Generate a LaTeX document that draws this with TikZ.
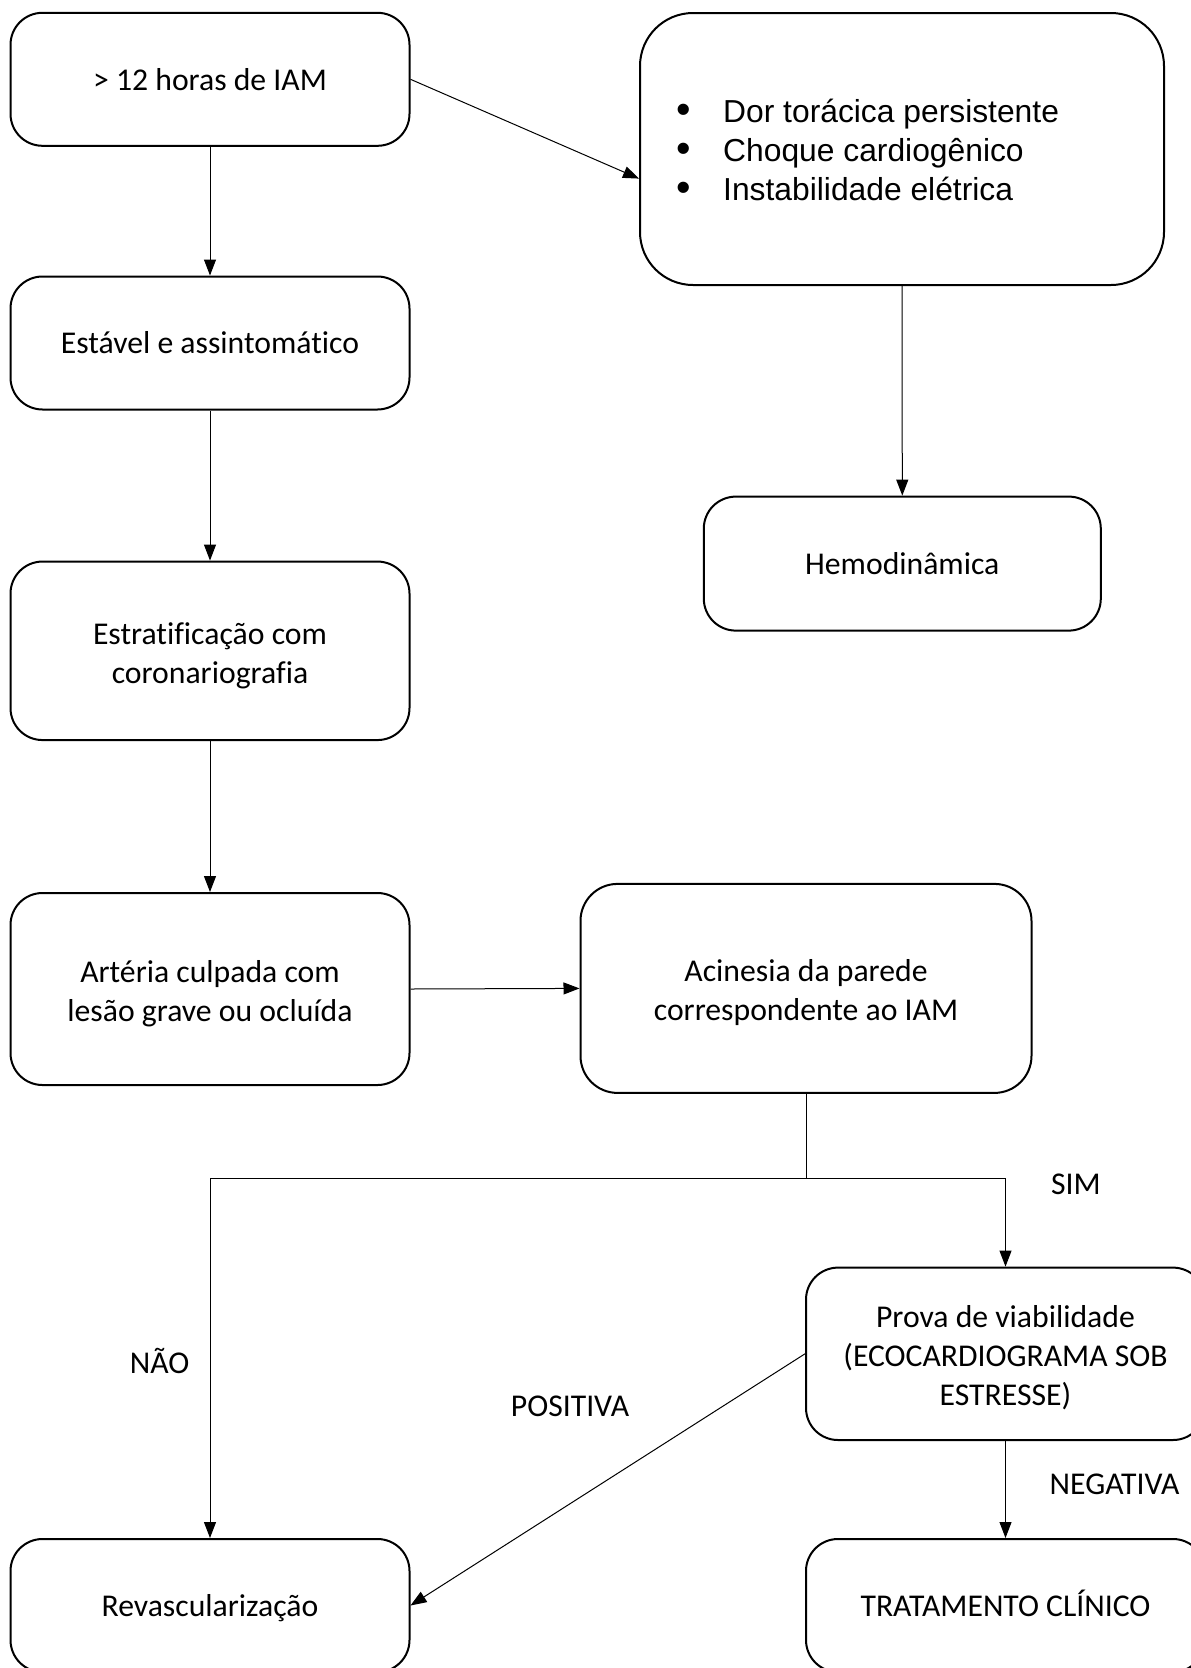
\documentclass[tikz,border=0pt]{standalone}
\usepackage{fontspec}
\usepackage{graphicx}
\setmainfont[Ligatures=NoCommon]{Carlito}
\newfontfamily\arialf{Liberation Sans}
\usetikzlibrary{arrows.meta}
\newcommand\wst{\rule[-8.5pt]{0pt}{38.7pt}}
\newcommand\wsm{\rule[-6.5pt]{0pt}{38.7pt}}
\newcommand\bul{\makebox[47pt][l]{\raisebox{-1pt}{\scalebox{1.3}{\textbullet}}}}
\begin{document}
\begin{tikzpicture}[x=1pt,y=-1pt,
  box/.style={draw, line width=2pt, rounded corners=32pt, minimum width=399pt,
    minimum height=133pt, align=center, inner sep=0pt,
    font=\fontsize{31.7}{38.8}\selectfont},
  conn/.style={line width=1pt, -{Triangle[length=16pt,width=12pt]}},
  lbl/.style={font=\fontsize{31.7}{38.8}\selectfont, inner sep=0pt}]
\clip (0,0) rectangle (1191,1668);
\fill[white] (0,0) rectangle (1191,1668);

\node[box] (b1) at (210,79.3) {\wst> 12 horas de IAM};
\node[box, minimum width=524pt, minimum height=272pt, rounded corners=53pt] (b2) at (902,149) {};
\node[anchor=west, align=left, inner sep=0pt,
  font=\arialf\fontsize{31.8}{39}\selectfont] (b2t) at (676,150)
  {\bul Dor torácica persistente\\
   \bul Choque cardiogênico\\
   \bul Instabilidade elétrica};
\node[box] (b3) at (210,343) {\wst Estável e assintomático};
\node[box, minimum width=397pt, minimum height=134pt] (b4) at (902.3,563.6) {\wst Hemodinâmica};
\node[box, minimum height=178.5pt] (b5) at (210,650.8) {\wsm Estratificação com\\\wsm coronariografia};
\node[box, minimum height=192pt] (b6) at (210,989) {\wsm Artéria culpada com\\\wsm lesão grave ou ocluída};
\node[box, minimum width=451pt, minimum height=209pt, rounded corners=37pt] (b7) at (806,988.4) {\wsm Acinesia da parede\\\wsm correspondente ao IAM};
\node[box, minimum height=172.4pt] (b8) at (1005.5,1353.8) {\wsm Prova de viabilidade\\\wsm (ECOCARDIOGRAMA SOB\\\wsm ESTRESSE)};
\node[box] (b9) at (210,1605.5) {\wst Revascularização};
\node[box] (b10) at (1005.5,1605.5) {\wst TRATAMENTO CLÍNICO};

\draw[conn] (b1.south) -- (b3.north);
\draw[conn] (b1.east) -- ([yshift=-29.6pt]b2.west);
\draw[conn] (b2.south) -- (b4.north);
\draw[conn] (b3.south) -- (b5.north);
\draw[conn] (b5.south) -- (b6.north);
\draw[conn] (b6.east) -- (b7.west);
\coordinate (j) at (806,1178);
\draw[line width=1pt] (b7.south) -- (j);
\draw[conn] (j) -| (b9.north);
\draw[conn] (j) -| (b8.north);
\draw[conn] (b8.west) -- (b9.east);
\draw[conn] (b8.south) -- (b10.north);

\node[lbl] (sim) at (1076,1184) {\wst SIM};
\node[lbl] (nao) at (159.5,1363) {\wst NÃO};
\node[lbl] (pos) at (570,1406) {\wst POSITIVA};
\node[lbl] (neg) at (1114.5,1483.5) {\wst NEGATIVA};
\end{tikzpicture}
\end{document}
